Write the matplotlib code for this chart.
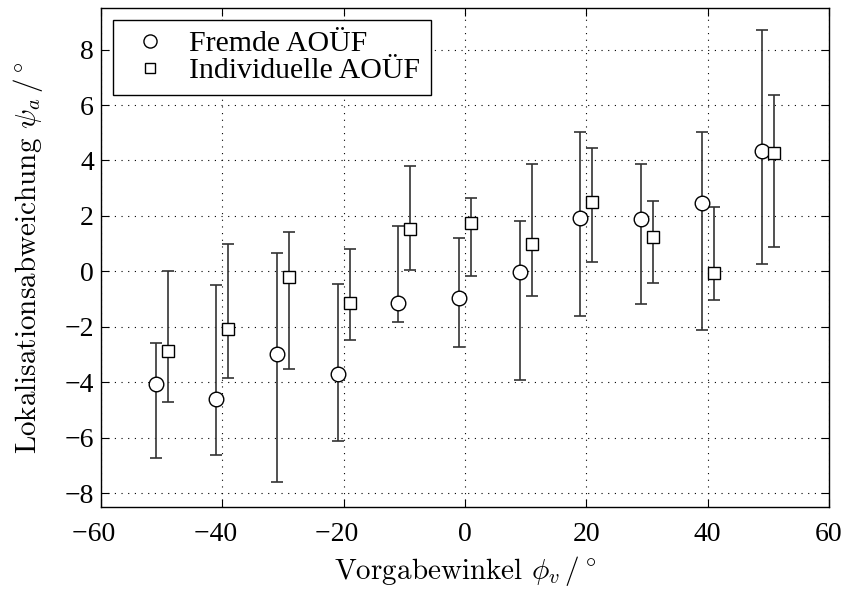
import matplotlib
matplotlib.use("Agg")
import matplotlib.pyplot as plt
import numpy as np

plt.rcParams['font.family'] = ['Liberation Serif', 'DejaVu Serif']
plt.rcParams['mathtext.fontset'] = 'cm'
plt.rcParams['axes.unicode_minus'] = True

# circles: "Fremde AOUEF"
x_fremd = [-51, -41, -31, -21, -11, -1, 9, 19, 29, 39, 49]
y_fremd = [-4.06, -4.61, -2.98, -3.69, -1.14, -0.97, -0.04, 1.93, 1.88, 2.47, 4.36]
lo_fremd = [-6.74, -6.64, -7.59, -6.12, -1.83, -2.72, -3.92, -1.60, -1.18, -2.12, 0.26]
hi_fremd = [-2.57, -0.48, 0.68, -0.46, 1.64, 1.20, 1.82, 5.01, 3.89, 5.01, 8.70]

# squares: "Individuelle AOUEF"
x_indiv = [-49, -39, -29, -19, -9, 1, 11, 21, 31, 41, 51]
y_indiv = [-2.87, -2.09, -0.22, -1.14, 1.54, 1.73, 0.99, 2.50, 1.25, -0.05, 4.27]
lo_indiv = [-4.72, -3.83, -3.51, -2.48, 0.05, -0.15, -0.90, 0.32, -0.43, -1.02, 0.88]
hi_indiv = [0.00, 0.98, 1.43, 0.79, 3.81, 2.64, 3.87, 4.45, 2.54, 2.31, 6.36]

x_ticks = [-60, -40, -20, 0, 20, 40, 60]
y_ticks = [-8, -6, -4, -2, 0, 2, 4, 6, 8]


def xtick_text(v):
    # digits centred on the tick, minus sign hanging to the left
    if v < 0:
        return '\u2212%d\u2002' % (-v)
    return '%d' % v


fig = plt.figure(figsize=(8.43, 5.90), dpi=100)
ax = fig.add_axes([0.1198, 0.1407, 0.8636, 0.8457])


def draw(x, y, lo, hi, marker, ms, label):
    y = np.array(y)
    err = [y - np.array(lo), np.array(hi) - y]
    ax.errorbar(x, y, yerr=err, fmt='none', ecolor='#333333', elinewidth=1.2,
                capsize=4.3, capthick=1.2, zorder=2)
    ax.plot(x, y, linestyle='none', marker=marker, markersize=ms,
            markerfacecolor='white', markeredgecolor='black', markeredgewidth=1.0,
            label=label, zorder=3)


draw(x_fremd, y_fremd, lo_fremd, hi_fremd, 'o', 10.5, 'Fremde AOÜF')
draw(x_indiv, y_indiv, lo_indiv, hi_indiv, 's', 8.5, 'Individuelle AOÜF')

ax.set_xlim(-60, 60)
ax.set_ylim(-8.5, 9.5)
ax.set_xticks(x_ticks)
ax.set_xticklabels([xtick_text(v) for v in x_ticks])
ax.set_yticks(y_ticks)
ax.grid(True, color='black', linestyle=(0, (1, 5)), linewidth=0.8)
ax.tick_params(direction='in', top=True, right=True, length=6, labelsize=20)
ax.tick_params(axis='x', pad=11)
ax.tick_params(axis='y', pad=5)
for s in ax.spines.values():
    s.set_linewidth(1.0)

ax.set_xlabel(r'Vorgabewinkel $\phi_v\,/\,^{\circ}$', fontsize=21,
              family='cmr10', labelpad=5)
ax.set_ylabel(r'Lokalisationsabweichung $\psi_a\,/\,^{\circ}$', fontsize=21,
              family='cmr10', labelpad=14)

leg = ax.legend(loc='upper left', fontsize=21.5, fancybox=False, framealpha=1,
                edgecolor='black', borderaxespad=0.4, handletextpad=0.4,
                labelspacing=0.0, borderpad=0.35, markerscale=0.9,
                handlelength=1.8)
leg.get_frame().set_linewidth(1.0)

fig.savefig('out.png', dpi=100)
